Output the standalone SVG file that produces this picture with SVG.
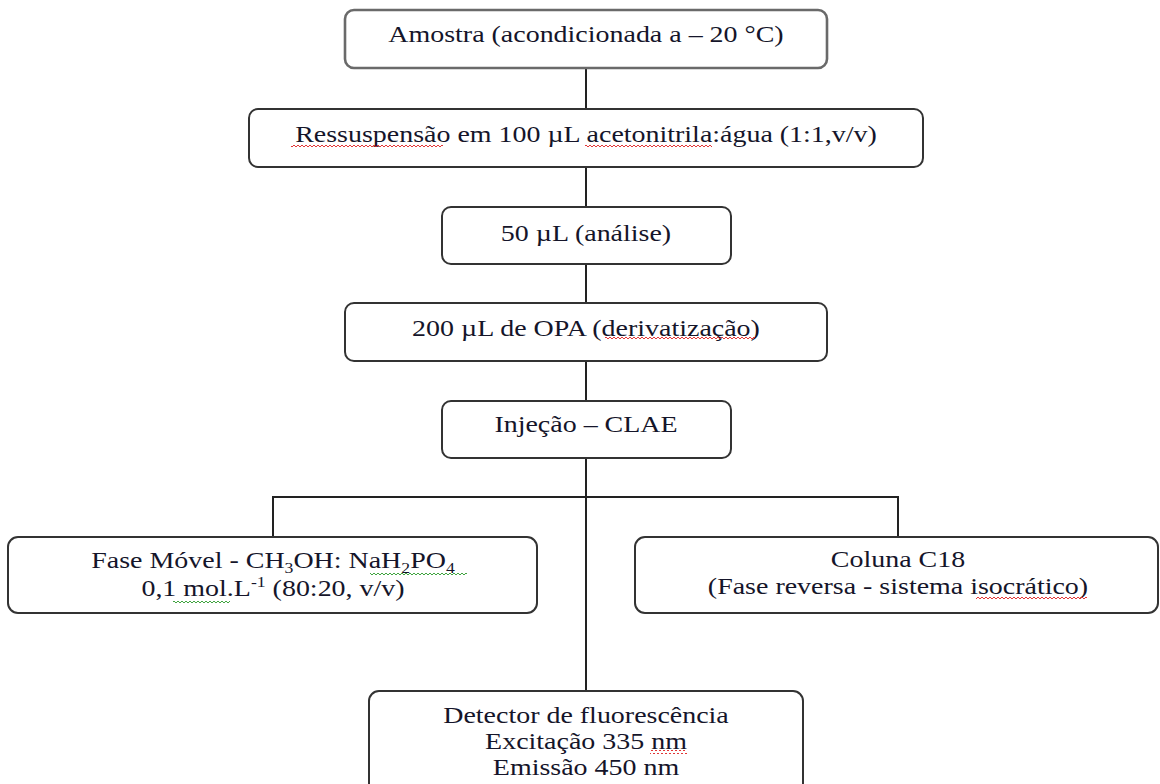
<svg xmlns="http://www.w3.org/2000/svg" width="1160" height="784" viewBox="0 0 1160 784">
  <style>
    .box { fill: #ffffff; stroke: #333333; stroke-width: 2; }
    .box-soft { fill: #ffffff; stroke: #6a6a6a; stroke-width: 2.6; }
    .link { fill: none; stroke: #222222; stroke-width: 2; }
    .lbl { font-family: "Liberation Serif", "Times New Roman", serif; font-size: 23.7px; fill: #15152a; text-anchor: middle; }
    .sub { font-size: 15px; }
  </style>
  <defs>
    <pattern id="wavyRed" patternUnits="userSpaceOnUse" width="4" height="4">
      <path d="M0 3 L2 1 L4 3" fill="none" stroke="#e02020" stroke-width="0.9"/>
    </pattern>
    <pattern id="wavyGreen" patternUnits="userSpaceOnUse" width="4" height="4">
      <path d="M0 3 L2 1 L4 3" fill="none" stroke="#2a9a2a" stroke-width="0.9"/>
    </pattern>
  </defs>

  <!-- connectors -->
  <g id="connectors">
    <line class="link" x1="586" y1="68" x2="586" y2="109"/>
    <line class="link" x1="586" y1="167" x2="586" y2="207"/>
    <line class="link" x1="586" y1="264" x2="586" y2="303"/>
    <line class="link" x1="586" y1="361" x2="586" y2="401"/>
    <line class="link" x1="586" y1="458" x2="586" y2="691"/>
    <polyline class="link" points="273,537 273,497 898,497 898,537"/>
  </g>

  <g id="amostra">
    <rect class="box-soft" x="345" y="10" width="482" height="58" rx="9"/>
    <text class="lbl" transform="translate(586,42) scale(1.18,1)">Amostra (acondicionada a – 20 °C)</text>
  </g>

  <g id="ressuspensao">
    <rect class="box" x="249" y="109" width="674" height="58" rx="9"/>
    <text class="lbl" transform="translate(586,142) scale(1.18,1)">Ressuspensão em 100 µL acetonitrila:água (1:1,v/v)</text>
    <rect x="291" y="143" width="152" height="4" fill="url(#wavyRed)"/>
    <rect x="585" y="143" width="127" height="4" fill="url(#wavyRed)"/>
  </g>

  <g id="aliquota">
    <rect class="box" x="442" y="207" width="289" height="57" rx="9"/>
    <text class="lbl" transform="translate(586,241) scale(1.18,1)">50 µL (análise)</text>
  </g>

  <g id="derivatizacao">
    <rect class="box" x="345" y="303" width="482" height="58" rx="9"/>
    <text class="lbl" transform="translate(586,336) scale(1.18,1)">200 µL de OPA (derivatização)</text>
    <rect x="605" y="337" width="150" height="4" fill="url(#wavyRed)"/>
  </g>

  <g id="injecao">
    <rect class="box" x="442" y="401" width="289" height="57" rx="9"/>
    <text class="lbl" transform="translate(586,432) scale(1.18,1)">Injeção – CLAE</text>
  </g>

  <g id="fase-movel">
    <rect class="box" x="8" y="537" width="529" height="76" rx="10"/>
    <text class="lbl" transform="translate(273,568) scale(1.18,1)">Fase Móvel - CH<tspan class="sub" dy="5">3</tspan><tspan dy="-5">OH: NaH</tspan><tspan class="sub" dy="5">2</tspan><tspan dy="-5">PO</tspan><tspan class="sub" dy="5">4</tspan></text>
    <text class="lbl" transform="translate(273,596) scale(1.18,1)">0,1 mol.L<tspan class="sub" dy="-9">-1</tspan><tspan dy="9"> (80:20, v/v)</tspan></text>
    <rect x="370" y="572" width="97" height="4" fill="url(#wavyGreen)"/>
    <rect x="173" y="599" width="57" height="4" fill="url(#wavyGreen)"/>
  </g>

  <g id="coluna">
    <rect class="box" x="635" y="537" width="523" height="76" rx="10"/>
    <text class="lbl" transform="translate(898,567) scale(1.18,1)">Coluna C18</text>
    <text class="lbl" transform="translate(898,594) scale(1.18,1)">(Fase reversa - sistema isocrático)</text>
    <rect x="976" y="596" width="111" height="4" fill="url(#wavyRed)"/>
  </g>

  <g id="detector">
    <rect class="box" x="369" y="691" width="434" height="110" rx="10"/>
    <text class="lbl" transform="translate(586,723) scale(1.18,1)">Detector de fluorescência</text>
    <text class="lbl" transform="translate(586,749) scale(1.18,1)">Excitação 335 nm</text>
    <text class="lbl" transform="translate(586,775) scale(1.18,1)">Emissão 450 nm</text>
    <rect x="650" y="750" width="37" height="4" fill="url(#wavyRed)"/>
  </g>
</svg>
